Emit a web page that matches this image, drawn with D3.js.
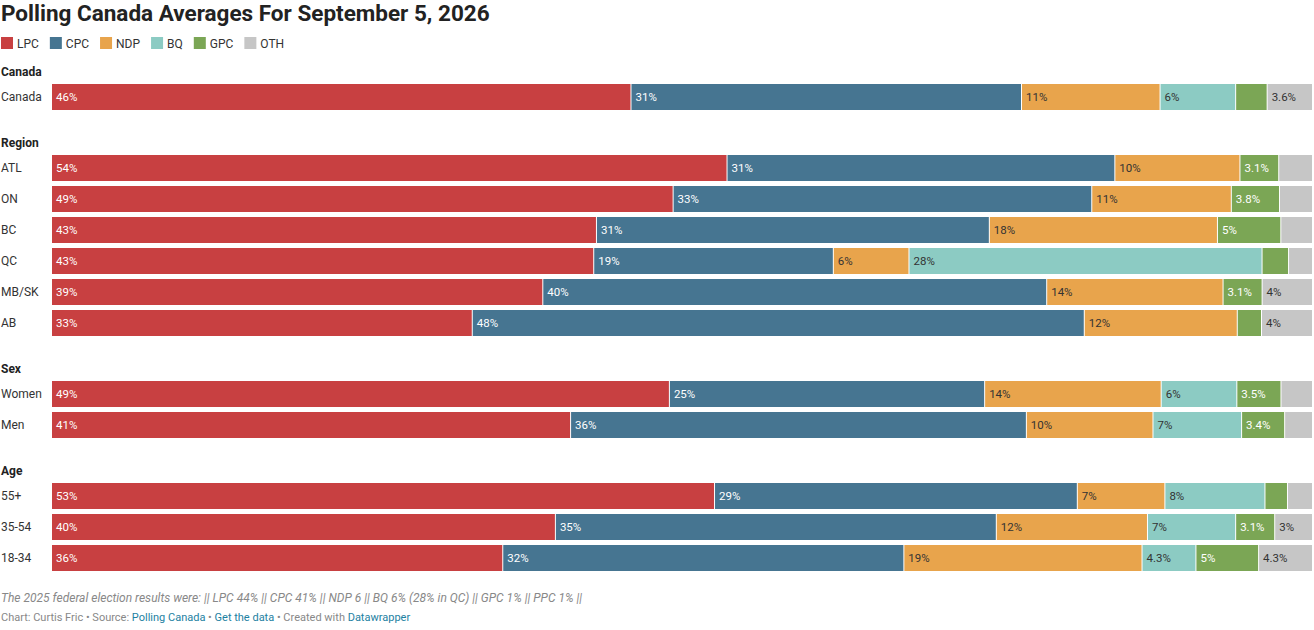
<!DOCTYPE html>
<html><head><meta charset="utf-8">
<script src="https://cdn.jsdelivr.net/npm/d3@7"></script>
<style>body{margin:0;background:#fff;font-family:Roboto,sans-serif}</style>
</head><body><svg id="c" width="1314" height="630"></svg>
<script>
const parties = ["LPC","CPC","NDP","BQ","GPC","OTH"];
const colors = ["#c84041","#467591","#e8a44c","#8ccbc3","#7ba655","#c6c6c6"];
const textColors = ["#fff","#fff","#333","#333","#fff","#333"];
const groups = ["Canada","Region","Sex","Age"];
const rowLabels = ["Canada","ATL","ON","BC","QC","MB/SK","AB","Women","Men","55+","35-54","18-34"];
const rowGroup = ["Canada","Region","Region","Region","Region","Region","Region","Sex","Sex","Age","Age","Age"];
const LPC = [46,54,49,43,43,39,33,49,41,53,40,36];
const CPC = [31,31,33,31,19,40,48,25,36,29,35,32];
const NDP = [11,10,11,18,6,14,12,14,10,7,12,19];
const BQ  = [6,0,0,0,28,0,0,6,7,8,7,4.3];
const GPC = [2.5,3.1,3.8,5,2.1,3.1,1.9,3.5,3.4,1.8,3.1,5];
const OTH = [3.6,2.7,2.6,2.5,1.9,4,4,2.5,2.2,2,3,4.3];
const series = [LPC,CPC,NDP,BQ,GPC,OTH];

const svg = d3.select("#c");
svg.append("text").attr("x",1).attr("y",21).attr("font-size",22.5).attr("font-weight",700).attr("fill","#222")
  .text("Polling Canada Averages For September 5, 2026");
let lx=1;
parties.forEach((p,i)=>{
  svg.append("rect").attr("x",lx).attr("y",37).attr("width",12).attr("height",12).attr("fill",colors[i]);
  const t=svg.append("text").attr("x",lx+16).attr("y",47.5).attr("font-size",12).attr("fill","#333").text(p);
  lx += 16 + t.node().getComputedTextLength() + 11;
});
const groupTop = {Canada:72, Region:143, Sex:369, Age:471};
const rowY = []; const cnt={};
rowLabels.forEach((r,i)=>{const g=rowGroup[i];cnt[g]=(cnt[g]||0);rowY.push(groupTop[g]+12+cnt[g]*31);cnt[g]++;});
groups.forEach(g=>svg.append("text").attr("x",1).attr("y",groupTop[g]+4).attr("font-size",12).attr("font-weight",700).attr("fill","#222").text(g));
const x = d3.scaleLinear().domain([0,100]).range([52,1313]);
const fmt = v => Number.isInteger(v)? v+"%" : v.toFixed(1)+"%";
rowLabels.forEach((r,i)=>{
  const y=rowY[i], h=26;
  svg.append("text").attr("x",1).attr("y",y+h/2+4).attr("font-size",12).attr("fill","#333").text(r);
  const vals=series.map(s=>s[i]); const tot=d3.sum(vals);
  let c=0;
  vals.forEach((v,k)=>{
    if(!v) return;
    const x0=x(c/tot*100), x1=x((c+v)/tot*100); c+=v;
    svg.append("rect").attr("x",x0).attr("y",y).attr("width",Math.max(0,x1-x0-1)).attr("height",h).attr("fill",colors[k]);
    if(x1-x0>=36) svg.append("text").attr("x",x0+4).attr("y",y+h/2+4).attr("font-size",11.5).attr("fill",textColors[k]).text(fmt(v));
  });
});
svg.append("text").attr("x",1).attr("y",602).attr("font-size",12).attr("font-style","italic").attr("fill","#888")
  .text("The 2025 federal election results were: || LPC 44% || CPC 41% || NDP 6 || BQ 6% (28% in QC) || GPC 1% || PPC 1% ||");
const src=svg.append("text").attr("x",1).attr("y",621).attr("font-size",11).attr("fill","#888");
src.append("tspan").text("Chart: Curtis Fric • Source: ");
src.append("tspan").attr("fill","#1d81a2").text("Polling Canada");
src.append("tspan").text(" • ");
src.append("tspan").attr("fill","#1d81a2").text("Get the data");
src.append("tspan").text(" • Created with ");
src.append("tspan").attr("fill","#1d81a2").text("Datawrapper");
</script></body></html>
